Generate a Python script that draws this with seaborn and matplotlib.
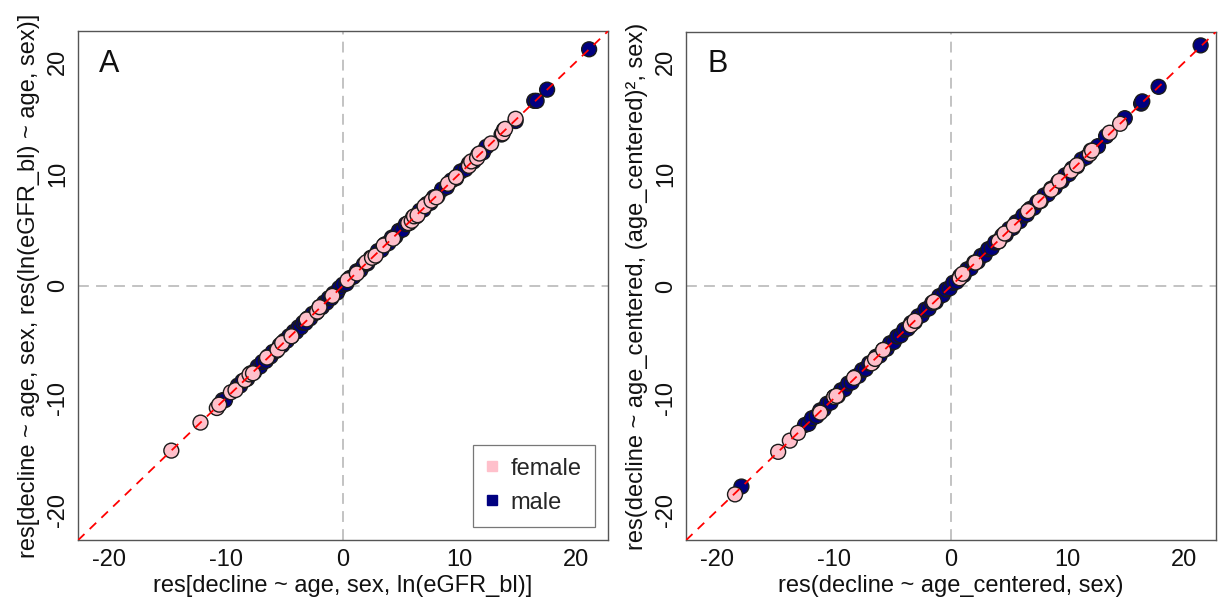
import numpy as np
import pandas as pd
import seaborn as sns
import matplotlib.pyplot as plt
from matplotlib.lines import Line2D

# panel A: residuals
a_male_x = [-10.3, -10.1, -9.0, -8.8, -8.6, -8.2, -7.9, -7.6, -7.3, -7.1,
            -6.9, -6.6, -6.4, -6.2, -6.0, -5.7, -5.4, -5.2, -5.0, -4.8,
            -4.6, -4.4, -4.2, -4.0, -3.8, -3.6, -3.4, -3.2, -3.0, -2.8,
            -2.6, -2.3, -2.0, -1.8, -1.6, -1.4, -1.2, -1.0, -0.8, -0.5,
            -0.3, 0.0, 0.3, 0.6, 0.9, 1.2, 1.5, 1.8, 2.1, 2.4,
            2.7, 3.0, 3.3, 3.6, 3.9, 4.2, 4.5, 4.8, 5.1, 5.4,
            5.7, 6.0, 6.3, 6.6, 6.9, 7.2, 7.5, 7.8, 8.1, 8.5,
            8.9, 9.3, 9.7, 10.1, 10.5, 10.8, 11.2, 11.6, 12.0, 12.3,
            13.6, 13.8, 14.8, 16.4, 16.6, 17.5, 21.1]
a_male_y = [-10.2, -10.2, -8.9, -8.9, -8.5, -8.3, -7.8, -7.7, -7.2, -7.2,
            -6.8, -6.7, -6.3, -6.3, -5.9, -5.8, -5.3, -5.3, -4.9, -4.9,
            -4.5, -4.5, -4.1, -4.1, -3.7, -3.7, -3.3, -3.3, -2.9, -2.9,
            -2.5, -2.4, -1.9, -1.9, -1.5, -1.5, -1.1, -1.1, -0.7, -0.6,
            -0.2, 0.1, 0.2, 0.7, 0.8, 1.3, 1.4, 1.9, 2.0, 2.5,
            2.6, 3.1, 3.2, 3.7, 3.8, 4.3, 4.4, 4.9, 5.0, 5.5,
            5.6, 6.1, 6.2, 6.7, 6.8, 7.3, 7.4, 7.9, 8.0, 8.6,
            8.8, 9.4, 9.6, 10.2, 10.4, 10.9, 11.1, 11.7, 11.9, 12.4,
            13.5, 13.9, 14.7, 16.5, 16.5, 17.5, 21.1]
a_female_x = [-14.7, -12.2, -10.8, -10.6, -9.6, -9.2, -8.4, -8.0, -7.7, -6.5,
              -5.6, -5.2, -4.4, -3.1, -2.2, -2.0, -0.9, 0.4, 1.2, 2.0,
              2.5, 2.8, 3.5, 4.3, 5.6, 5.9, 6.1, 6.4, 7.0, 7.6,
              8.0, 9.0, 9.7, 10.8, 11.0, 11.5, 11.7, 12.7, 13.7, 13.9, 14.8]
a_female_y = [-14.7, -12.2, -10.9, -10.6, -9.5, -9.3, -8.4, -7.9, -7.8, -6.4,
              -5.7, -5.1, -4.5, -3.0, -2.3, -1.9, -0.9, 0.5, 1.1, 2.1,
              2.5, 2.7, 3.6, 4.2, 5.6, 5.8, 6.2, 6.3, 7.1, 7.6,
              7.9, 9.1, 9.7, 10.7, 11.1, 11.4, 11.8, 12.7, 13.6, 14.0, 14.9]

# panel B
b_male_x = [-17.95, -12.5, -12.2, -11.9, -11.5, -11.2, -10.9, -10.6, -10.3, -10.0,
            -9.7, -9.4, -9.1, -8.8, -8.5, -8.2, -7.9, -7.6, -7.3, -7.0,
            -6.7, -6.4, -6.1, -5.8, -5.5, -5.2, -4.9, -4.6, -4.3, -4.0,
            -3.7, -3.4, -3.1, -2.8, -2.5, -2.2, -1.9, -1.6, -1.3, -1.0,
            -0.7, -0.4, -0.1, 0.2, 0.5, 0.8, 1.1, 1.4, 1.7, 2.0,
            2.3, 2.6, 2.9, 3.2, 3.5, 3.8, 4.1, 4.4, 4.7, 5.0,
            5.3, 5.6, 5.9, 6.2, 6.5, 6.8, 7.1, 7.4, 7.7, 8.0,
            8.3, 8.6, 8.9, 9.2, 9.5, 9.8, 10.1, 10.4, 10.8, 11.2,
            11.6, 12.0, 12.6, 13.3, 14.9, 16.3, 16.4, 17.8, 21.4]
b_male_y = [-17.9, -12.4, -12.3, -11.8, -11.6, -11.1, -11.0, -10.5, -10.4, -9.9,
            -9.8, -9.3, -9.2, -8.7, -8.6, -8.1, -8.0, -7.5, -7.4, -6.9,
            -6.8, -6.3, -6.2, -5.7, -5.6, -5.1, -5.0, -4.5, -4.4, -3.9,
            -3.8, -3.3, -3.2, -2.7, -2.6, -2.1, -2.0, -1.5, -1.4, -0.9,
            -0.8, -0.3, -0.2, 0.3, 0.4, 0.9, 1.0, 1.5, 1.6, 2.1,
            2.2, 2.7, 2.8, 3.3, 3.4, 3.9, 4.0, 4.5, 4.6, 5.1,
            5.2, 5.7, 5.8, 6.3, 6.4, 6.9, 7.0, 7.5, 7.6, 8.1,
            8.2, 8.7, 8.8, 9.3, 9.4, 9.9, 10.0, 10.5, 10.7, 11.3,
            11.5, 12.1, 12.5, 13.4, 15.0, 16.3, 16.5, 17.8, 21.5]
b_female_x = [-18.5, -14.8, -13.8, -13.1, -11.2, -10.0, -9.8, -8.3, -6.8, -6.5,
              -5.8, -3.45, -3.1, -1.45, 0.75, 1.0, 2.1, 4.1, 4.6, 5.4,
              6.6, 7.6, 8.6, 9.3, 10.3, 10.8, 11.9, 12.1, 13.6, 14.5]
b_female_y = [-18.6, -14.8, -13.8, -13.1, -11.3, -9.9, -9.8, -8.2, -6.9, -6.5,
              -5.7, -3.5, -3.1, -1.4, 0.7, 1.1, 2.1, 4.0, 4.7, 5.4,
              6.7, 7.6, 8.6, 9.4, 10.3, 10.8, 11.8, 12.1, 13.7, 14.5]

sex_order = ['female', 'male']
sex_colors = {'female': '#FFC0CB', 'male': '#000080'}

sns.set_theme(style='white')
plt.rcParams['font.family'] = ['Liberation Sans', 'DejaVu Sans']
plt.rcParams['axes.unicode_minus'] = False


def make_df(mx, my, fx, fy):
    return pd.DataFrame({'x': mx + fx, 'y': my + fy,
                         'sex': ['male'] * len(mx) + ['female'] * len(fx)})


def draw_panel(ax, df, xlabel, ylabel, letter):
    lim = (-22.7, 22.7)
    ax.axhline(0, color='#BEBEBE', lw=1.3, ls=(0, (6, 4)), zorder=1)
    ax.axvline(0, color='#BEBEBE', lw=1.3, ls=(0, (6, 4)), zorder=1)
    sns.scatterplot(ax=ax, data=df, x='x', y='y', hue='sex', palette=sex_colors,
                    s=115, edgecolor='#1a1a1a', linewidth=1.0, legend=False, zorder=2)
    ax.plot(lim, lim, color='red', lw=1.3, ls=(0, (5, 4)), zorder=3)
    ax.set_xlim(lim)
    ax.set_ylim(lim)
    ax.set_xticks([-20, -10, 0, 10, 20])
    ax.set_yticks([-20, -10, 0, 10, 20])
    ax.tick_params(axis='both', direction='out', length=5, width=0.9,
                   color='#444444', labelsize=17, pad=1.5, labelcolor='#111111')
    ax.tick_params(axis='y', labelrotation=90)
    for lbl in ax.get_yticklabels():
        lbl.set_va('center')
    for sp in ax.spines.values():
        sp.set_color('#555555')
        sp.set_linewidth(1.0)
    ax.set_xlabel(xlabel, fontsize=17, labelpad=3, color='#111111')
    ax.set_ylabel(ylabel, fontsize=17, labelpad=5, color='#111111')
    ax.text(-20, 19.8, letter, fontsize=22, ha='center', va='center', color='#111111')


fig = plt.figure(figsize=(12.18, 6.03), dpi=100)
ax_a = fig.add_axes([0.064, 0.104, 0.435, 0.844])
ax_b = fig.add_axes([0.5632, 0.104, 0.435, 0.843])

draw_panel(ax_a, make_df(a_male_x, a_male_y, a_female_x, a_female_y),
           'res[decline ~ age, sex, ln(eGFR_bl)]',
           'res[decline ~ age, sex, res(ln(eGFR_bl) ~ age, sex)]', 'A')
draw_panel(ax_b, make_df(b_male_x, b_male_y, b_female_x, b_female_y),
           'res(decline ~ age_centered, sex)',
           'res(decline ~ age_centered, (age_centered)\u00b2, sex)', 'B')

handles = [Line2D([], [], marker='s', ls='', color=sex_colors[k], markersize=7)
           for k in sex_order]
leg = ax_a.legend(handles, sex_order, loc='lower right', bbox_to_anchor=(0.975, 0.027),
                  fontsize=17, frameon=True, fancybox=False, borderpad=0.55,
                  handlelength=0.5, handletextpad=0.55, labelspacing=0.5,
                  borderaxespad=0)
leg.get_frame().set_edgecolor('#555555')
leg.get_frame().set_linewidth(0.9)

fig.savefig('out.png', dpi=100)
